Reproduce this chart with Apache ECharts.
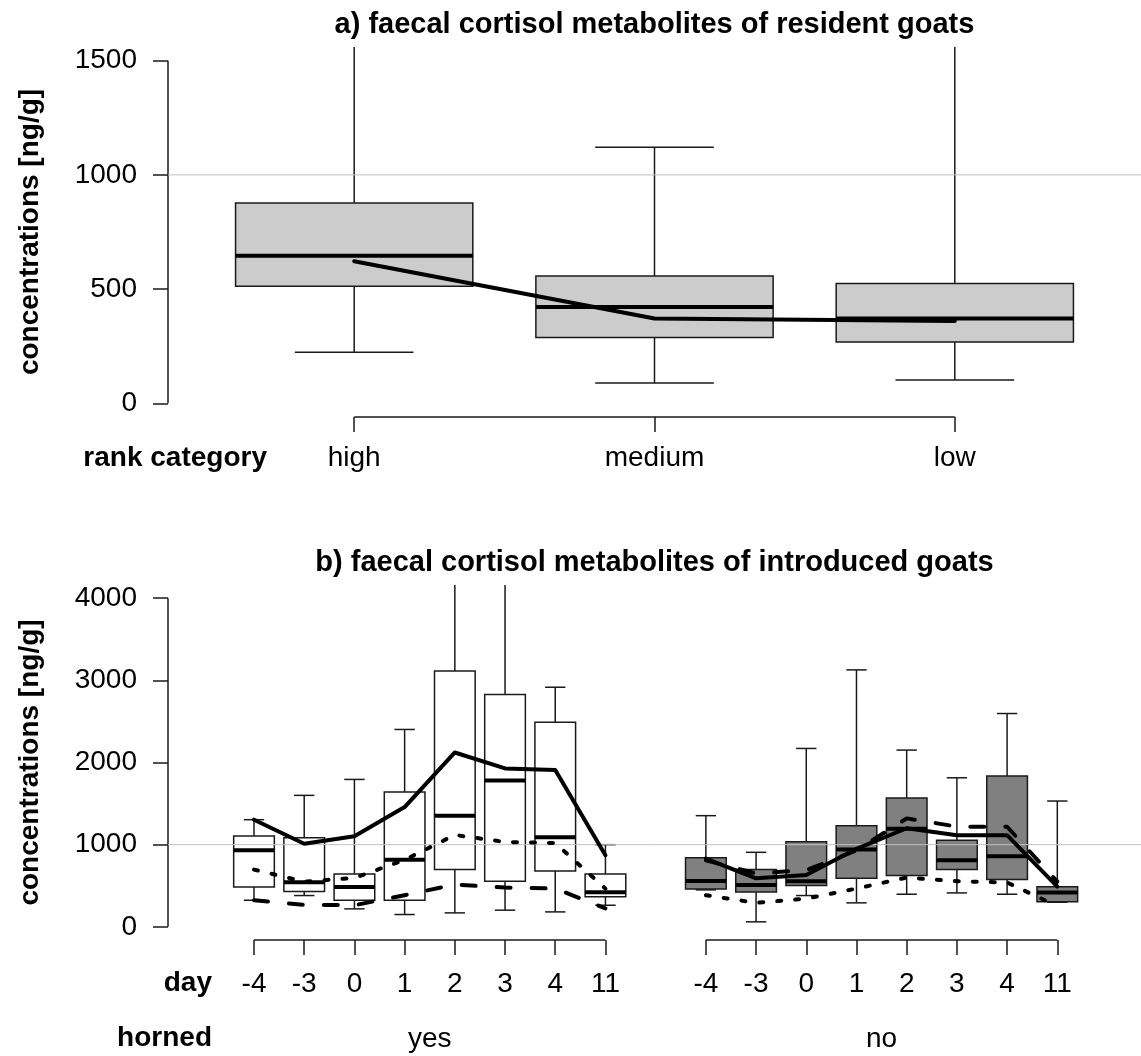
<!DOCTYPE html>
<html>
<head>
<meta charset="utf-8">
<title>Faecal cortisol metabolites in goats</title>
<script src="https://cdn.jsdelivr.net/npm/echarts@6/dist/echarts.min.js"></script>
<style>
  html, body { margin: 0; padding: 0; background: #ffffff; }
  #chart { width: 1141px; height: 1056px; }
</style>
</head>
<body>
<div id="chart"></div>
<script>
// ---- panel a: resident goats by rank category ----
const rankCategories = ['high', 'medium', 'low'];
// [lower whisker, Q1, median, Q3, upper whisker]
const residentBoxes = [
  [224, 512, 646, 877, 1650],
  [89, 288, 422, 557, 1121],
  [102, 268, 371, 525, 1650]
];
const residentMeans = [622, 371, 360];
const residentTicks = [0, 500, 1000, 1500];

// ---- panel b: introduced goats by day, horned yes / no ----
const days = ['-4', '-3', '0', '1', '2', '3', '4', '11'];
const hornedGroups = ['yes', 'no'];
const hornedBoxes = [
  [324, 486, 932, 1106, 1304],
  [381, 429, 543, 1085, 1600],
  [219, 324, 486, 644, 1794],
  [150, 324, 818, 1640, 2402],
  [170, 697, 1353, 3114, 4600],
  [203, 555, 1782, 2827, 4600],
  [182, 680, 1089, 2491, 2916],
  [263, 365, 421, 644, 1000]
];
const hornlessBoxes = [
  [450, 462, 559, 842, 1353],
  [61, 425, 510, 697, 907],
  [381, 502, 555, 1037, 2171],
  [292, 591, 940, 1231, 3127],
  [397, 624, 1195, 1567, 2151],
  [413, 697, 810, 1053, 1814],
  [397, 575, 859, 1835, 2596],
  [300, 304, 418, 487, 1531]
];
const hornedSolid   = [1304, 1012, 1102, 1458, 2122, 1928, 1908, 871];
const hornedDashed  = [324, 268, 263, 385, 515, 478, 466, 225];
const hornedDotted  = [697, 550, 595, 815, 1118, 1033, 1020, 465];
const hornlessSolid  = [830, 590, 630, 950, 1200, 1115, 1115, 490];
const hornlessDashed = [810, 650, 690, 930, 1320, 1220, 1218, 550];
const hornlessDotted = [385, 292, 344, 466, 600, 555, 540, 252];
const introducedTicks = [0, 1000, 2000, 3000, 4000];
const referenceLevel = 1000;

// box positions on the numeric x axis (one empty slot between groups)
const yesPos = days.map((d, i) => i + 1);
const noPos = days.map((d, i) => i + 10);
const groupCentres = [(yesPos[0] + yesPos[yesPos.length - 1]) / 2, (noPos[0] + noPos[noPos.length - 1]) / 2];

const FONT = '"Liberation Sans", Arial, Helvetica, sans-serif';
const INK = '#1a1a1a';
const THIN = 1.5;

// axis extents (data range padded 4 % as in classic base graphics)
const axA = { xMin: 0.38, xMax: 3.62, yMin: -60, yMax: 1560 };
const axB = { xMin: -0.713, xMax: 18.667, yMin: -160, yMax: 4160 };

function boxRenderer(fill, boxWidth) {
  return function (params, api) {
    const x = api.value(0);
    const half = api.size([boxWidth, 0])[0] / 2;
    const pLo = api.coord([x, api.value(1)]);
    const cx = pLo[0];
    const yLo = pLo[1];
    const yQ1 = api.coord([x, api.value(2)])[1];
    const yMed = api.coord([x, api.value(3)])[1];
    const yQ3 = api.coord([x, api.value(4)])[1];
    const yHi = api.coord([x, api.value(5)])[1];
    const thin = { stroke: INK, lineWidth: THIN };
    return {
      type: 'group',
      children: [
        { type: 'line', shape: { x1: cx, y1: yQ3, x2: cx, y2: yHi }, style: thin },
        { type: 'line', shape: { x1: cx, y1: yQ1, x2: cx, y2: yLo }, style: thin },
        { type: 'line', shape: { x1: cx - half / 2, y1: yHi, x2: cx + half / 2, y2: yHi }, style: thin },
        { type: 'line', shape: { x1: cx - half / 2, y1: yLo, x2: cx + half / 2, y2: yLo }, style: thin },
        { type: 'rect', shape: { x: cx - half, y: yQ3, width: 2 * half, height: yQ1 - yQ3 },
          style: { fill: fill, stroke: INK, lineWidth: THIN } },
        { type: 'line', shape: { x1: cx - half, y1: yMed, x2: cx + half, y2: yMed },
          style: { stroke: '#000', lineWidth: 4 } }
      ]
    };
  };
}

// axis spines, brackets and the reference level: [x1, y1, x2, y2, kind]
function frameRenderer(params, api) {
  const p1 = api.coord([api.value(0), api.value(1)]);
  const p2 = api.coord([api.value(2), api.value(3)]);
  const ref = api.value(4) === 1;
  return {
    type: 'line',
    shape: { x1: p1[0], y1: p1[1], x2: p2[0], y2: p2[1] },
    style: { stroke: ref ? '#c0c0c0' : INK, lineWidth: ref ? 1 : THIN }
  };
}

const frameA = [
  [axA.xMin, residentTicks[0], axA.xMin, residentTicks[residentTicks.length - 1], 0],
  [1, axA.yMin, rankCategories.length, axA.yMin, 0],
  [axA.xMin, referenceLevel, axA.xMax, referenceLevel, 1]
];
const frameB = [
  [axB.xMin, introducedTicks[0], axB.xMin, introducedTicks[introducedTicks.length - 1], 0],
  [yesPos[0], axB.yMin, yesPos[yesPos.length - 1], axB.yMin, 0],
  [noPos[0], axB.yMin, noPos[noPos.length - 1], axB.yMin, 0],
  [axB.xMin, referenceLevel, axB.xMax, referenceLevel, 1]
];

function zip(pos, vals) { return pos.map((p, i) => [p, vals[i]]); }

function meanLine(name, xi, data, dash) {
  return {
    name: name, type: 'line', xAxisIndex: xi, yAxisIndex: xi,
    data: data, symbol: 'none', silent: true, z: 6, animation: false,
    lineStyle: { color: '#000', width: 4, type: dash || 'solid', cap: 'round', join: 'round' }
  };
}

const tickLabelStyle = { fontSize: 28, color: '#000', fontFamily: FONT };
const tickStyle = { lineStyle: { color: INK, width: THIN }, length: 15, inside: false };
const posLabel = (v) => {
  const r = Math.round(v);
  let i = yesPos.indexOf(r);
  if (i < 0) i = noPos.indexOf(r);
  return i < 0 ? '' : days[i];
};

function yAxisFor(gi, ax, ticks) {
  return {
    type: 'value', gridIndex: gi, position: 'left', min: ax.yMin, max: ax.yMax,
    axisLine: { show: false, onZero: false }, splitLine: { show: false },
    axisTick: Object.assign({ show: true, customValues: ticks }, tickStyle),
    axisLabel: Object.assign({ customValues: ticks, margin: 31, formatter: (v) => String(v) }, tickLabelStyle),
    name: 'concentrations [ng/g]', nameLocation: 'middle', nameGap: 124,
    nameTextStyle: { fontSize: 28, fontWeight: 'bold', color: '#000', fontFamily: FONT }
  };
}

const option = {
  animation: false,
  backgroundColor: '#ffffff',
  grid: [
    { left: 168, top: 47, width: 973, height: 370 },
    { left: 168, top: 585, width: 973, height: 355 }
  ],
  xAxis: [
    {
      type: 'value', gridIndex: 0, position: 'bottom', min: axA.xMin, max: axA.xMax,
      axisLine: { show: false, onZero: false }, splitLine: { show: false },
      axisTick: Object.assign({ show: true, customValues: [1, 2, 3] }, tickStyle),
      axisLabel: Object.assign({ customValues: [1, 2, 3], margin: 27,
        formatter: (v) => rankCategories[Math.round(v) - 1] }, tickLabelStyle)
    },
    {
      type: 'value', gridIndex: 1, position: 'bottom', min: axB.xMin, max: axB.xMax,
      axisLine: { show: false, onZero: false }, splitLine: { show: false },
      axisTick: Object.assign({ show: true, customValues: yesPos.concat(noPos) }, tickStyle),
      axisLabel: Object.assign({ customValues: yesPos.concat(noPos), margin: 30,
        formatter: posLabel }, tickLabelStyle)
    },
    {
      type: 'value', gridIndex: 1, position: 'bottom', offset: 0, min: axB.xMin, max: axB.xMax,
      axisLine: { show: false, onZero: false }, splitLine: { show: false }, axisTick: { show: false },
      axisLabel: Object.assign({ customValues: groupCentres, margin: 85,
        formatter: (v) => hornedGroups[groupCentres.indexOf(v)] }, tickLabelStyle)
    }
  ],
  yAxis: [yAxisFor(0, axA, residentTicks), yAxisFor(1, axB, introducedTicks)],
  graphic: [
    { type: 'text', x: 654.5, y: 25, silent: true,
      style: { text: 'a) faecal cortisol metabolites of resident goats', fill: '#000',
        font: 'bold 29px ' + FONT, align: 'center', verticalAlign: 'middle' } },
    { type: 'text', x: 654.5, y: 563, silent: true,
      style: { text: 'b) faecal cortisol metabolites of introduced goats', fill: '#000',
        font: 'bold 29px ' + FONT, align: 'center', verticalAlign: 'middle' } },
    { type: 'text', x: 267, y: 458, silent: true,
      style: { text: 'rank category', fill: '#000', font: 'bold 28px ' + FONT, align: 'right', verticalAlign: 'middle' } },
    { type: 'text', x: 212, y: 983, silent: true,
      style: { text: 'day', fill: '#000', font: 'bold 28px ' + FONT, align: 'right', verticalAlign: 'middle' } },
    { type: 'text', x: 212, y: 1038, silent: true,
      style: { text: 'horned', fill: '#000', font: 'bold 28px ' + FONT, align: 'right', verticalAlign: 'middle' } }
  ],
  series: [
    {
      name: 'resident', type: 'custom', xAxisIndex: 0, yAxisIndex: 0, clip: true, z: 2,
      renderItem: boxRenderer('#cccccc', 0.79), silent: true,
      data: residentBoxes.map((b, i) => [i + 1].concat(b))
    },
    {
      name: 'frameA', type: 'custom', xAxisIndex: 0, yAxisIndex: 0, clip: false, z: 4,
      renderItem: frameRenderer, silent: true, data: frameA
    },
    meanLine('resident mean', 0, zip([1, 2, 3], residentMeans)),
    {
      name: 'horned', type: 'custom', xAxisIndex: 1, yAxisIndex: 1, clip: true, z: 2,
      renderItem: boxRenderer('#ffffff', 0.81), silent: true,
      data: hornedBoxes.map((b, i) => [yesPos[i]].concat(b))
    },
    {
      name: 'hornless', type: 'custom', xAxisIndex: 1, yAxisIndex: 1, clip: true, z: 2,
      renderItem: boxRenderer('#808080', 0.81), silent: true,
      data: hornlessBoxes.map((b, i) => [noPos[i]].concat(b))
    },
    {
      name: 'frameB', type: 'custom', xAxisIndex: 1, yAxisIndex: 1, clip: false, z: 4,
      renderItem: frameRenderer, silent: true, data: frameB
    },
    meanLine('horned solid', 1, zip(yesPos, hornedSolid)),
    meanLine('horned dashed', 1, zip(yesPos, hornedDashed), [14, 21]),
    meanLine('horned dotted', 1, zip(yesPos, hornedDotted), [4, 14]),
    meanLine('hornless solid', 1, zip(noPos, hornlessSolid)),
    meanLine('hornless dashed', 1, zip(noPos, hornlessDashed), [14, 21]),
    meanLine('hornless dotted', 1, zip(noPos, hornlessDotted), [4, 14])
  ]
};

const chart = echarts.init(document.getElementById('chart'), null, { renderer: 'canvas' });
chart.setOption(option);
</script>
</body>
</html>
